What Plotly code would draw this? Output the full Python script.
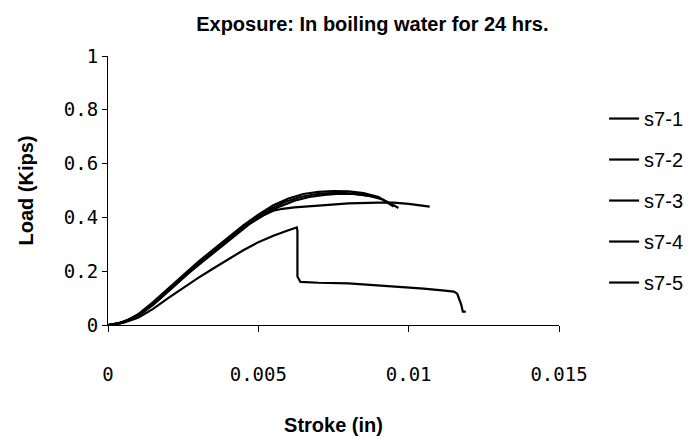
import plotly.graph_objects as go

# Load (kips) vs stroke (in)
s1_x = [0, 0.0003, 0.0006, 0.001, 0.0015, 0.002, 0.0025, 0.003, 0.0035, 0.004, 0.0045,
        0.005, 0.0055, 0.006, 0.0065, 0.007, 0.0075, 0.008, 0.0085, 0.009, 0.0093, 0.0095]
s1_y = [0, 0.005, 0.015, 0.04, 0.085, 0.135, 0.185, 0.235, 0.28, 0.325, 0.37,
        0.41, 0.445, 0.47, 0.487, 0.495, 0.498, 0.497, 0.49, 0.476, 0.455, 0.44]

s2_x = [0, 0.0004, 0.0008, 0.0012, 0.0017, 0.0022, 0.0027, 0.0032, 0.0037, 0.0042, 0.0047,
        0.0052, 0.0057, 0.0062, 0.0067, 0.0072, 0.0077, 0.0082, 0.0087, 0.0091, 0.0094, 0.00966]
s2_y = [0, 0.008, 0.025, 0.05, 0.095, 0.145, 0.195, 0.24, 0.285, 0.33, 0.375,
        0.41, 0.44, 0.462, 0.476, 0.484, 0.488, 0.487, 0.48, 0.468, 0.452, 0.435]

s3_x = [0, 0.0005, 0.001, 0.0015, 0.002, 0.0025, 0.003, 0.0035, 0.004, 0.0045, 0.005,
        0.0055, 0.0058, 0.0062, 0.007, 0.008, 0.009, 0.0095, 0.01, 0.0104, 0.0107]
s3_y = [0, 0.01, 0.035, 0.075, 0.125, 0.175, 0.225, 0.27, 0.315, 0.36, 0.4,
        0.425, 0.432, 0.437, 0.444, 0.452, 0.455, 0.455, 0.45, 0.445, 0.44]

s4_x = [0, 0.0004, 0.0009, 0.0014, 0.0019, 0.0024, 0.0029, 0.0034, 0.0039, 0.0044, 0.0049,
        0.0054, 0.0059, 0.0064, 0.0069, 0.0074, 0.0079, 0.0084, 0.0088]
s4_y = [0, 0.006, 0.03, 0.07, 0.12, 0.17, 0.22, 0.265, 0.31, 0.355, 0.395,
        0.43, 0.458, 0.476, 0.486, 0.49, 0.49, 0.485, 0.478]

s5_x = [0, 0.0005, 0.001, 0.0015, 0.002, 0.0025, 0.003, 0.0035, 0.004, 0.0045, 0.005,
        0.0055, 0.006, 0.0062, 0.00628, 0.0063, 0.0063, 0.0064, 0.007, 0.008, 0.009,
        0.0096, 0.0105, 0.0112, 0.0115, 0.0116, 0.01162, 0.01175, 0.0118, 0.0119]
s5_y = [0, 0.008, 0.027, 0.06, 0.1, 0.138, 0.175, 0.21, 0.245, 0.278, 0.308,
        0.332, 0.352, 0.36, 0.363, 0.35, 0.18, 0.16, 0.157, 0.155, 0.148,
        0.142, 0.135, 0.128, 0.124, 0.118, 0.115, 0.075, 0.05, 0.05]

series = [("s7-1", s1_x, s1_y), ("s7-2", s2_x, s2_y), ("s7-3", s3_x, s3_y),
          ("s7-4", s4_x, s4_y), ("s7-5", s5_x, s5_y)]

BOLD = "Liberation Sans Narrow, Arial Narrow, Liberation Sans, Arial"
MONO = "DejaVu Sans Mono, monospace"

fig = go.Figure()
for name, xs, ys in series:
    fig.add_trace(go.Scatter(x=xs, y=ys, name=name, mode="lines", legendgroup=name,
                             line=dict(color="black", width=2.2)))

# the page body adds an 8px offset, so margins are trimmed by that amount
fig.update_layout(
    width=694, height=438,
    paper_bgcolor="white", plot_bgcolor="white",
    margin=dict(l=100, r=143, t=48, b=121),
    title=dict(text="<b>Exposure: In boiling water for 24 hrs.</b>",
               x=0.525, xanchor="center", y=0.98, yanchor="top",
               font=dict(family=BOLD, size=20, color="black")),
    showlegend=True,
    legend=dict(x=1.10, xanchor="left", y=0.84, yanchor="top",
                font=dict(family=BOLD, size=20, color="black"),
                tracegroupgap=12, itemwidth=30, bgcolor="rgba(0,0,0,0)"),
)
fig.update_xaxes(range=[0, 0.015], tickvals=[0, 0.005, 0.01, 0.015],
                 ticktext=["0", "0.005", "0.01", "0.015"], automargin=False,
                 showline=True, linecolor="black", linewidth=1, showgrid=False,
                 zeroline=False, ticks="outside", ticklen=6, tickcolor="black",
                 ticklabelstandoff=26,
                 tickfont=dict(family=MONO, size=19, color="black"),
                 title=dict(text="<b>Stroke (in)</b>", standoff=34,
                            font=dict(family=BOLD, size=20, color="black")))
fig.update_yaxes(range=[0, 1], tickvals=[0, 0.2, 0.4, 0.6, 0.8, 1],
                 ticktext=["0", "0.2", "0.4", "0.6", "0.8", "1"], automargin=False,
                 showline=True, linecolor="black", linewidth=1, showgrid=False,
                 zeroline=False, ticks="outside", ticklen=5, tickcolor="black",
                 tickfont=dict(family=MONO, size=19, color="black"),
                 title=dict(text="<b>Load (Kips)</b>", standoff=24,
                            font=dict(family="Liberation Sans, Arial", size=20, color="black")))

fig.write_html("out.html")
